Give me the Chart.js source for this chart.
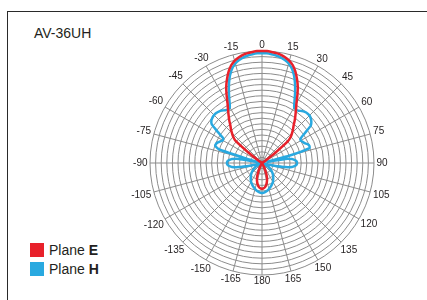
<!DOCTYPE html>
<html>
<head>
<meta charset="utf-8">
<script src="https://cdn.jsdelivr.net/npm/chart.js@4"></script>
<style>
  html, body { margin: 0; padding: 0; background: #fff; }
  #wrap { position: relative; width: 427px; height: 300px; overflow: hidden;
          font-family: "Liberation Sans", Arial, Helvetica, sans-serif; color: #231f20; }
  #frame { position: absolute; left: 7px; top: 11px; width: 600px; height: 400px;
           border-left: 1px solid #2a2a2a; border-top: 1px solid #2a2a2a; }
  #title { position: absolute; left: 34px; top: 26px; font-size: 14px; line-height: 14px; }
  .leg { position: absolute; left: 30px; font-size: 14px; line-height: 14px; }
  .leg i { position: absolute; left: 0; top: 0; width: 14px; height: 14px; }
  .leg span { position: absolute; left: 19px; top: 0; white-space: nowrap; }
  #c { position: absolute; left: 0; top: 0; }
</style>
</head>
<body>
<div id="wrap">
  <div id="frame"></div>
  <div id="title">AV-36UH</div>
  <div class="leg" style="top:243px"><i style="background:#e8212b"></i><span>Plane <b>E</b></span></div>
  <div class="leg" style="top:262px"><i style="background:#29a9e0"></i><span>Plane <b>H</b></span></div>
  <canvas id="c" width="427" height="300"></canvas>
</div>
<script>
// angle step of the samples (degrees), labels shown every 15 degrees
const step = 2.5;
const tickLabels = ['0', '15', '30', '45', '60', '75', '90', '105', '120', '135', '150', '165', '180',
  '-165', '-150', '-135', '-120', '-105', '-90', '-75', '-60', '-45', '-30', '-15'];

// relative radius, 0..1 ; "right" = 0..180 deg, "left" = -2.5..-177.5 deg
const planeE_right = [1.0, 1.0, 0.995, 0.99, 0.98, 0.965, 0.945, 0.915, 0.87, 0.815, 0.755, 0.685,
  0.615, 0.565, 0.52, 0.48, 0.44, 0.41, 0.38, 0.35, 0.30, 0.14, 0.04, 0.01, 0,
  0, 0, 0, 0, 0, 0, 0, 0, 0, 0, 0, 0, 0, 0, 0, 0, 0, 0, 0, 0, 0, 0, 0, 0, 0, 0, 0, 0, 0, 0, 0,
  0, 0, 0, 0, 0.01, 0.03, 0.06, 0.09, 0.125, 0.15, 0.17, 0.188, 0.203, 0.215, 0.223, 0.228, 0.23];
const planeE_left = [1.0, 0.995, 0.99, 0.98, 0.965, 0.945, 0.915, 0.87, 0.815, 0.755, 0.685,
  0.615, 0.565, 0.52, 0.48, 0.44, 0.41, 0.38, 0.35, 0.31, 0.15, 0.04, 0.01, 0,
  0, 0, 0, 0, 0, 0, 0, 0, 0, 0, 0, 0, 0, 0, 0, 0, 0, 0, 0, 0, 0, 0, 0, 0, 0, 0, 0, 0, 0, 0, 0,
  0, 0, 0, 0, 0.01, 0.03, 0.06, 0.09, 0.125, 0.15, 0.17, 0.188, 0.203, 0.215, 0.223, 0.228];

const planeH_right = [0.98, 0.98, 0.975, 0.968, 0.958, 0.942, 0.92, 0.885, 0.835, 0.77, 0.70, 0.63,
  0.575, 0.565, 0.57, 0.585, 0.595, 0.60, 0.60, 0.59, 0.575, 0.55, 0.47, 0.41,
  0.40, 0.41, 0.42, 0.44, 0.45, 0.445, 0.25, 0.05, 0.21, 0.27, 0.295, 0.31, 0.313,
  0.31, 0.295, 0.27, 0.21, 0.10, 0.04, 0.02, 0.015, 0.02, 0.03, 0.045, 0.06, 0.072, 0.085, 0.098,
  0.11, 0.123, 0.135, 0.145, 0.155, 0.165, 0.175, 0.185, 0.195, 0.203, 0.21, 0.218, 0.225, 0.232,
  0.24, 0.247, 0.253, 0.258, 0.263, 0.266, 0.268];
const planeH_left = [0.98, 0.975, 0.968, 0.958, 0.942, 0.92, 0.885, 0.835, 0.77, 0.70, 0.63,
  0.575, 0.565, 0.575, 0.59, 0.60, 0.605, 0.605, 0.60, 0.59, 0.565, 0.48, 0.41,
  0.405, 0.42, 0.435, 0.445, 0.445, 0.40, 0.12, 0.04, 0.21, 0.27, 0.295, 0.31, 0.313,
  0.31, 0.295, 0.27, 0.21, 0.10, 0.04, 0.02, 0.015, 0.02, 0.03, 0.045, 0.06, 0.072, 0.085, 0.098,
  0.11, 0.123, 0.135, 0.145, 0.155, 0.165, 0.175, 0.185, 0.195, 0.203, 0.21, 0.218, 0.225, 0.232,
  0.24, 0.247, 0.253, 0.258, 0.263, 0.266];

const angles = [];
for (let a = 0; a < 360; a += step) angles.push(a <= 180 ? a : a - 360);
const full = (r, l) => r.concat(l.slice().reverse());

const angleLabelsPlugin = {
  id: 'angleLabels',
  afterDraw(chart) {
    const s = chart.scales.r;
    const ctx = chart.ctx;
    ctx.save();
    ctx.font = '10px "Liberation Sans", Arial, sans-serif';
    ctx.fillStyle = '#231f20';
    ctx.textAlign = 'center';
    ctx.textBaseline = 'middle';
    tickLabels.forEach((t, k) => {
      const idx = k * 15 / step;
      const rad = k * 15 * Math.PI / 180;
      const w = ctx.measureText(t).width;
      const off = 2.5 + Math.abs(Math.sin(rad)) * w / 2 + Math.abs(Math.cos(rad)) * 3.5;
      const p = s.getPointPosition(idx, s.drawingArea + off);
      ctx.fillText(t, p.x, p.y);
    });
    ctx.restore();
  }
};

new Chart(document.getElementById('c'), {
  type: 'radar',
  data: {
    labels: angles,
    datasets: [
      { label: 'Plane E', data: full(planeE_right, planeE_left), borderColor: '#e8212b',
        borderWidth: 2.5, pointRadius: 0, fill: false, tension: 0.15 },
      { label: 'Plane H', data: full(planeH_right, planeH_left), borderColor: '#29a9e0',
        borderWidth: 2.5, pointRadius: 0, fill: false, tension: 0.15 }
    ]
  },
  options: {
    responsive: false,
    animation: false,
    events: [],
    layout: { padding: { top: 51, bottom: 25, left: 150, right: 53 } },
    plugins: { legend: { display: false }, tooltip: { enabled: false } },
    scales: {
      r: {
        min: 0, max: 1,
        ticks: { display: false, stepSize: 0.05 },
        grid: { circular: true, color: '#8c8c8c', lineWidth: 1 },
        angleLines: {
          display: true,
          color: c => c.index % 6 === 0 ? '#8c8c8c' : 'rgba(0,0,0,0)',
          lineWidth: c => c.index % 6 === 0 ? 1 : 0
        },
        pointLabels: { display: false }
      }
    }
  },
  plugins: [angleLabelsPlugin]
});
</script>
</body>
</html>
